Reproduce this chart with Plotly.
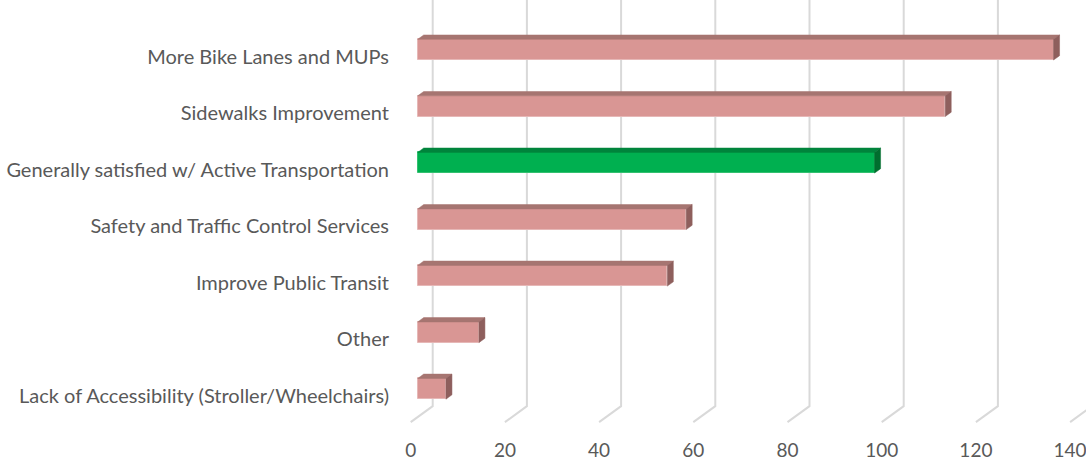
import plotly.graph_objects as go

categories = [
    "Lack of Accessibility (Stroller/Wheelchairs)",
    "Other",
    "Improve Public Transit",
    "Safety and Traffic Control Services",
    "Generally satisfied w/ Active Transportation",
    "Sidewalks Improvement",
    "More Bike Lanes and MUPs",
]
values = [6, 13, 53, 57, 97, 112, 135]
highlight = "Generally satisfied w/ Active Transportation"
tick_values = [0, 20, 40, 60, 80, 100, 120, 140]

# colours
PINK = ("#D99694", "#A67571", "#8E5F5D", "#E6B8B7")
GREEN = ("#00B050", "#00843C", "#006E2E", "#33C070")
GRID = "#D9D9D9"
TEXT = "#595959"

# 3-D projection geometry (pixel scale -> data units)
PX_X = 4.71          # pixels per value unit
PX_Y = 56.52         # pixels per category
SLOPE = 16 / 22      # depth dy/dx
def depth(px):
    return px / PX_X, px * SLOPE / PX_Y

bar_front = 7
bar_back = 13
wall = 22
half_h = 10.35 / PX_Y
label_drop = 2 / PX_Y

fig = go.Figure()

# gridlines: back-wall vertical + floor slant (below the bars)
wx, wy = depth(wall)
for v in tick_values:
    fig.add_shape(type="path", xref="x", yref="y", layer="below",
                  path=f"M {v + wx},8 L {v + wx},{-0.5 + wy} L {v},-0.5",
                  line=dict(color=GRID, width=2))

fx, fy = depth(bar_front)
bx, by = depth(bar_back)
ddx, ddy = bx - fx, by - fy

for i, (cat, v) in enumerate(zip(categories, values)):
    col = GREEN if cat == highlight else PINK
    yc = i + fy
    yt, yb = yc + half_h, yc - half_h
    x0, x1 = fx, fx + v
    # front face
    fig.add_trace(go.Bar(
        x=[v], y=[yc], base=[x0], orientation="h", width=2 * half_h,
        marker=dict(color=col[0], line=dict(color=col[3], width=1)),
        showlegend=False))
    # top face
    fig.add_trace(go.Scatter(
        x=[x0, x1, x1 + ddx, x0 + ddx, x0],
        y=[yt, yt, yt + ddy, yt + ddy, yt],
        fill="toself", fillcolor=col[1], mode="lines",
        line=dict(color=col[1], width=0.5),
        hoverinfo="skip", showlegend=False))
    # side face
    fig.add_trace(go.Scatter(
        x=[x1, x1 + ddx, x1 + ddx, x1, x1],
        y=[yb, yb + ddy, yt + ddy, yt, yb],
        fill="toself", fillcolor=col[2], mode="lines",
        line=dict(color=col[2], width=0.5),
        hoverinfo="skip", showlegend=False))

fig.update_layout(
    width=1086, height=461,
    margin=dict(l=400, r=0, t=0, b=36),
    paper_bgcolor="white", plot_bgcolor="white",
    font=dict(family="Lato", color=TEXT),
    bargap=0,
    xaxis=dict(
        range=[-10.7 / PX_X, (1086 - 410.7) / PX_X],
        tickvals=tick_values, ticktext=[str(t) for t in tick_values],
        showgrid=False, zeroline=False, showline=False,
        ticks="", tickfont=dict(size=19, color=TEXT),
        ticklabeloverflow="allow", ticklabelstandoff=12,
        automargin=False,
    ),
    yaxis=dict(
        range=[-(425 - 393.9) / PX_Y, 393.9 / PX_Y],
        tickvals=[i - label_drop for i in range(len(categories))],
        ticktext=categories,
        showgrid=False, zeroline=False, showline=False,
        ticks="", tickfont=dict(size=20, color=TEXT),
        ticklabelstandoff=10, automargin=False,
    ),
)

fig.write_html("out.html", config={"displayModeBar": False},
               post_script="document.body.style.margin='0px';")
